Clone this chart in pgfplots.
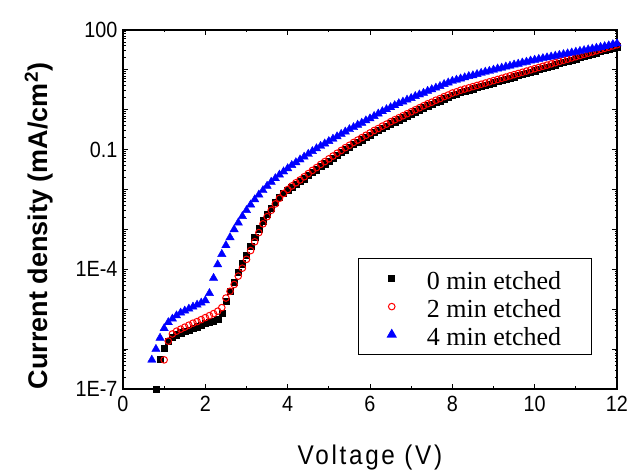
\documentclass[border=0pt]{standalone}
\usepackage{fontspec}
\setmainfont{Liberation Sans}
\newfontfamily\legfont{Liberation Serif}
\newfontfamily\tickfont[FakeStretch=0.9]{Liberation Sans}
\newfontfamily\xlabfont[FakeStretch=0.9,LetterSpace=10]{Liberation Sans}
\usepackage{pgfplots}
\pgfplotsset{compat=1.18}
\usepackage{pgfplotstable}

% x = voltage (V), lg = log10 of current density (mA/cm^2)
\pgfplotstableread{
x lg
0.8 -7.00
0.9 -6.25
1.0 -5.97
1.1 -5.80
1.2 -5.70
1.3 -5.64
1.4 -5.59
1.5 -5.55
1.6 -5.52
1.7 -5.48
1.8 -5.44
1.9 -5.40
2.0 -5.36
2.1 -5.33
2.2 -5.30
2.3 -5.26
2.4 -5.10
2.5 -4.80
2.6 -4.55
2.7 -4.32
2.8 -4.08
2.9 -3.86
3.0 -3.64
3.1 -3.42
3.2 -3.20
3.3 -2.98
3.4 -2.78
3.5 -2.61
3.6 -2.46
3.7 -2.32
3.8 -2.20
3.9 -2.10
4.0 -2.02
4.1 -1.94
4.2 -1.86
4.3 -1.80
4.4 -1.73
4.5 -1.65
4.6 -1.57
4.7 -1.50
4.8 -1.42
4.9 -1.35
5.0 -1.28
5.1 -1.21
5.2 -1.14
5.3 -1.07
5.4 -1.00
5.5 -0.94
5.6 -0.87
5.7 -0.81
5.8 -0.75
5.9 -0.69
6.0 -0.63
6.1 -0.57
6.2 -0.52
6.3 -0.46
6.4 -0.41
6.5 -0.35
6.6 -0.30
6.7 -0.25
6.8 -0.20
6.9 -0.15
7.0 -0.10
7.1 -0.05
7.2 0.00
7.3 0.05
7.4 0.10
7.5 0.14
7.6 0.19
7.7 0.23
7.8 0.28
7.9 0.32
8.0 0.37
8.1 0.40
8.2 0.44
8.3 0.47
8.4 0.50
8.5 0.53
8.6 0.56
8.7 0.59
8.8 0.62
8.9 0.65
9.0 0.68
9.1 0.71
9.2 0.74
9.3 0.77
9.4 0.80
9.5 0.83
9.6 0.86
9.7 0.89
9.8 0.92
9.9 0.95
10.0 0.98
10.1 1.01
10.2 1.04
10.3 1.07
10.4 1.10
10.5 1.13
10.6 1.16
10.7 1.19
10.8 1.22
10.9 1.25
11.0 1.28
11.1 1.31
11.2 1.34
11.3 1.37
11.4 1.40
11.5 1.43
11.6 1.46
11.7 1.49
11.8 1.52
11.9 1.55
12.0 1.58
}\dataZero

\pgfplotstableread{
x lg
1.0 -6.27
1.1 -5.80
1.2 -5.62
1.3 -5.55
1.4 -5.50
1.5 -5.45
1.6 -5.40
1.7 -5.35
1.8 -5.31
1.9 -5.26
2.0 -5.21
2.1 -5.16
2.2 -5.11
2.3 -5.05
2.4 -4.96
2.5 -4.72
2.6 -4.55
2.7 -4.38
2.8 -4.17
2.9 -3.97
3.0 -3.75
3.1 -3.53
3.2 -3.31
3.3 -3.08
3.4 -2.86
3.5 -2.68
3.6 -2.52
3.7 -2.36
3.8 -2.22
3.9 -2.10
4.0 -2.00
4.1 -1.91
4.2 -1.83
4.3 -1.76
4.4 -1.68
4.5 -1.60
4.6 -1.52
4.7 -1.45
4.8 -1.37
4.9 -1.30
5.0 -1.23
5.1 -1.16
5.2 -1.09
5.3 -1.02
5.4 -0.95
5.5 -0.89
5.6 -0.82
5.7 -0.76
5.8 -0.70
5.9 -0.64
6.0 -0.58
6.1 -0.52
6.2 -0.47
6.3 -0.41
6.4 -0.36
6.5 -0.30
6.6 -0.25
6.7 -0.20
6.8 -0.15
6.9 -0.10
7.0 -0.05
7.1 0.00
7.2 0.05
7.3 0.10
7.4 0.15
7.5 0.19
7.6 0.24
7.7 0.28
7.8 0.33
7.9 0.37
8.0 0.42
8.1 0.45
8.2 0.49
8.3 0.52
8.4 0.55
8.5 0.58
8.6 0.61
8.7 0.64
8.8 0.67
8.9 0.70
9.0 0.73
9.1 0.76
9.2 0.79
9.3 0.82
9.4 0.85
9.5 0.88
9.6 0.91
9.7 0.94
9.8 0.97
9.9 1.00
10.0 1.03
10.1 1.06
10.2 1.09
10.3 1.12
10.4 1.15
10.5 1.18
10.6 1.21
10.7 1.24
10.8 1.27
10.9 1.30
11.0 1.33
11.1 1.36
11.2 1.39
11.3 1.42
11.4 1.45
11.5 1.48
11.6 1.51
11.7 1.54
11.8 1.57
11.9 1.60
12.0 1.63
}\dataTwo

\pgfplotstableread{
x lg
0.7 -6.27
0.8 -6.00
0.9 -5.72
1.0 -5.48
1.1 -5.33
1.2 -5.24
1.3 -5.16
1.4 -5.09
1.5 -5.04
1.6 -4.99
1.7 -4.94
1.8 -4.89
1.9 -4.84
2.0 -4.78
2.1 -4.60
2.2 -4.22
2.3 -3.88
2.4 -3.62
2.5 -3.40
2.6 -3.20
2.7 -3.00
2.8 -2.83
2.9 -2.67
3.0 -2.52
3.1 -2.38
3.2 -2.25
3.3 -2.13
3.4 -2.02
3.5 -1.91
3.6 -1.81
3.7 -1.72
3.8 -1.63
3.9 -1.55
4.0 -1.47
4.1 -1.39
4.2 -1.32
4.3 -1.25
4.4 -1.18
4.5 -1.11
4.6 -1.04
4.7 -0.97
4.8 -0.91
4.9 -0.85
5.0 -0.79
5.1 -0.73
5.2 -0.67
5.3 -0.61
5.4 -0.55
5.5 -0.49
5.6 -0.44
5.7 -0.38
5.8 -0.33
5.9 -0.27
6.0 -0.22
6.1 -0.16
6.2 -0.10
6.3 -0.04
6.4 0.01
6.5 0.06
6.6 0.11
6.7 0.16
6.8 0.20
6.9 0.25
7.0 0.29
7.1 0.34
7.2 0.38
7.3 0.42
7.4 0.47
7.5 0.51
7.6 0.55
7.7 0.59
7.8 0.64
7.9 0.68
8.0 0.72
8.1 0.75
8.2 0.78
8.3 0.81
8.4 0.84
8.5 0.86
8.6 0.89
8.7 0.92
8.8 0.95
8.9 0.97
9.0 1.00
9.1 1.03
9.2 1.05
9.3 1.08
9.4 1.10
9.5 1.13
9.6 1.15
9.7 1.18
9.8 1.20
9.9 1.23
10.0 1.25
10.1 1.27
10.2 1.29
10.3 1.31
10.4 1.33
10.5 1.35
10.6 1.37
10.7 1.39
10.8 1.41
10.9 1.43
11.0 1.45
11.1 1.47
11.2 1.49
11.3 1.51
11.4 1.53
11.5 1.55
11.6 1.57
11.7 1.59
11.8 1.61
11.9 1.64
12.0 1.66
}\dataFour

\begin{document}
\begin{tikzpicture}
\useasboundingbox (0,0) rectangle (630pt,470pt);
\begin{axis}[
  at={(123pt,81pt)}, anchor=south west,
  width=494pt, height=359pt, scale only axis,
  xmin=0, xmax=12, ymin=-7, ymax=2,
  xtick={0,2,4,6,8,10,12}, xticklabels={0,2,4,6,8,10,12},
  minor xtick={1,3,5,7,9,11},
  ytick={-7,-6,-5,-4,-3,-2,-1,0,1,2},
  yticklabels={1E-7,{},{},1E-4,{},{},0.1,{},{},100},
  minor ytick={-6.699,-6.523,-6.398,-6.301,-6.222,-6.155,-6.097,-6.046,
    -5.699,-5.523,-5.398,-5.301,-5.222,-5.155,-5.097,-5.046,
    -4.699,-4.523,-4.398,-4.301,-4.222,-4.155,-4.097,-4.046,
    -3.699,-3.523,-3.398,-3.301,-3.222,-3.155,-3.097,-3.046,
    -2.699,-2.523,-2.398,-2.301,-2.222,-2.155,-2.097,-2.046,
    -1.699,-1.523,-1.398,-1.301,-1.222,-1.155,-1.097,-1.046,
    -0.699,-0.523,-0.398,-0.301,-0.222,-0.155,-0.097,-0.046,
    0.301,0.477,0.602,0.699,0.778,0.845,0.903,0.954,
    1.301,1.477,1.602,1.699,1.778,1.845,1.903,1.954},
  tick align=inside,
  major tick length=5pt, minor tick length=2.5pt,
  axis line style={line width=1.6pt},
  every tick/.style={black, line width=0.9pt},
  tick label style={font=\tickfont\fontsize{22}{22}\selectfont},
  xticklabel style={yshift=-4pt},
  yticklabel style={xshift=-2pt},
  xlabel={Voltage (V)},
  xlabel style={font=\xlabfont\fontsize{27}{27}\selectfont,
    at={(axis description cs:0.5,0)}, anchor=base, yshift=-76pt},
  ylabel={\textbf{Current density (mA/cm\textsuperscript{2})}},
  ylabel style={font=\fontsize{27}{27}\selectfont,
    at={(axis description cs:-0.1538,0.454)}, anchor=base, rotate=0},
  legend style={at={(0.4757,0.3649)}, anchor=north west,
    draw=black, line width=1.2pt, fill=white,
    font=\legfont\fontsize{26}{28}\selectfont,
    inner xsep=29pt, inner ysep=6pt, row sep=0pt,
    nodes={inner sep=1pt, text height=24pt, text depth=2pt}},
  legend cell align=left,
]
\addplot[only marks, mark=square*, mark size=3.1pt, black] table[x=x,y=lg] {\dataZero};
\addlegendentry{\hspace{30pt}0 min etched\hspace{-25pt}}
\addplot[only marks, mark=o, mark size=3.3pt, red, line width=1pt] table[x=x,y=lg] {\dataTwo};
\addlegendentry{\hspace{30pt}2 min etched\hspace{-25pt}}
\addplot[only marks, mark=triangle*, mark size=4.8pt, blue] table[x=x,y=lg] {\dataFour};
\addlegendentry{\hspace{30pt}4 min etched\hspace{-25pt}}
\end{axis}
\end{tikzpicture}
\end{document}
